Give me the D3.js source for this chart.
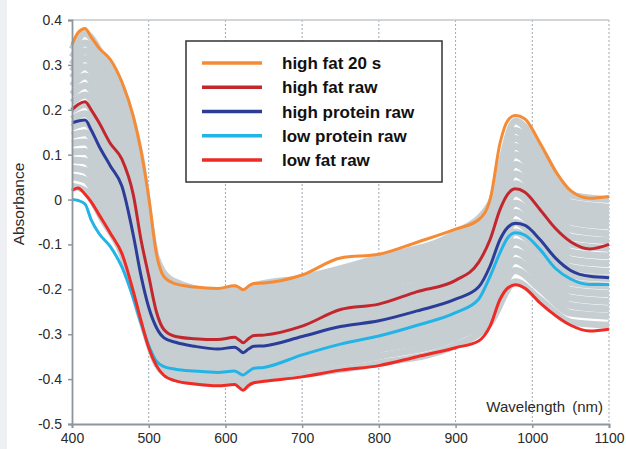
<!DOCTYPE html>
<html>
<head>
<meta charset="utf-8">
<script src="https://cdn.jsdelivr.net/npm/d3@7"></script>
<style>
html,body{margin:0;padding:0;background:#fff;}
svg{display:block;font-family:"Liberation Sans",Arial,sans-serif;}
</style>
</head>
<body>
<svg id="chart" width="626" height="449"></svg>
<script>
// ---------- DATA ----------
const wavelengths = [400,408,417,425,435,450,465,480,490,500,510,520,535,560,590,612,618,623,630,637,650,700,750,800,850,900,930,945,958,968,978,990,1010,1030,1050,1075,1100];

const highFat20s     = [0.345,0.372,0.381,0.362,0.338,0.312,0.262,0.185,0.108,0.005,-0.12,-0.172,-0.188,-0.195,-0.198,-0.192,-0.196,-0.201,-0.193,-0.187,-0.186,-0.168,-0.13,-0.122,-0.095,-0.066,-0.045,0.0,0.126,0.176,0.187,0.18,0.126,0.064,0.02,0.003,0.007];
const highFatRaw     = [0.2,0.212,0.218,0.2,0.172,0.125,0.09,0.01,-0.09,-0.17,-0.25,-0.29,-0.305,-0.31,-0.312,-0.307,-0.313,-0.319,-0.31,-0.303,-0.302,-0.282,-0.245,-0.233,-0.205,-0.18,-0.14,-0.089,-0.022,0.012,0.024,0.017,-0.022,-0.064,-0.094,-0.11,-0.1];
const highProteinRaw = [0.171,0.175,0.177,0.155,0.12,0.075,0.03,-0.08,-0.17,-0.24,-0.285,-0.308,-0.318,-0.327,-0.333,-0.329,-0.335,-0.341,-0.333,-0.327,-0.326,-0.305,-0.283,-0.27,-0.248,-0.222,-0.195,-0.148,-0.089,-0.062,-0.053,-0.057,-0.089,-0.13,-0.158,-0.171,-0.174];
const lowProteinRaw  = [0.0,-0.002,-0.01,-0.045,-0.075,-0.105,-0.15,-0.22,-0.275,-0.325,-0.36,-0.372,-0.378,-0.382,-0.385,-0.382,-0.387,-0.391,-0.383,-0.376,-0.374,-0.346,-0.322,-0.304,-0.28,-0.252,-0.222,-0.171,-0.118,-0.085,-0.074,-0.079,-0.111,-0.153,-0.177,-0.189,-0.189];
const lowFatRaw      = [0.02,0.026,0.012,-0.005,-0.033,-0.075,-0.12,-0.205,-0.27,-0.33,-0.37,-0.392,-0.404,-0.411,-0.415,-0.412,-0.419,-0.425,-0.414,-0.408,-0.405,-0.395,-0.38,-0.37,-0.35,-0.33,-0.315,-0.282,-0.222,-0.197,-0.19,-0.197,-0.23,-0.258,-0.28,-0.293,-0.289];

const seriesNames  = ["high fat 20 s","high fat raw","high protein raw","low protein raw","low fat raw"];
const seriesValues = [highFat20s, highFatRaw, highProteinRaw, lowProteinRaw, lowFatRaw];
const seriesColors = ["#f58b35","#c2272e","#2b3d98","#22b4e6","#ee2b25"];

// other (grey) spectra, sampled at these wavelengths
const greyWavelengths = [400,417,440,465,490,510,530,590,612,623,637,700,800,900,945,978,1010,1050,1100];
const greySpectra = [
  [0.335,0.370,0.320,0.250,0.090,-0.130,-0.180,-0.205,-0.197,-0.207,-0.192,-0.175,-0.130,-0.075,-0.010,0.175,0.115,0.010,0.000],
  [0.317,0.349,0.298,0.228,0.069,-0.144,-0.193,-0.217,-0.209,-0.220,-0.205,-0.188,-0.144,-0.090,-0.026,0.154,0.095,-0.007,-0.017],
  [0.301,0.331,0.280,0.209,0.051,-0.156,-0.204,-0.228,-0.220,-0.231,-0.215,-0.199,-0.156,-0.103,-0.039,0.136,0.078,-0.021,-0.031],
  [0.286,0.314,0.262,0.191,0.033,-0.168,-0.214,-0.238,-0.230,-0.241,-0.226,-0.209,-0.168,-0.115,-0.052,0.118,0.061,-0.035,-0.045],
  [0.271,0.296,0.243,0.172,0.015,-0.179,-0.225,-0.248,-0.241,-0.252,-0.236,-0.220,-0.179,-0.128,-0.066,0.100,0.044,-0.049,-0.059],
  [0.253,0.275,0.221,0.150,-0.006,-0.193,-0.238,-0.260,-0.253,-0.265,-0.249,-0.233,-0.193,-0.143,-0.082,0.078,0.024,-0.066,-0.076],
  [0.234,0.254,0.200,0.128,-0.027,-0.208,-0.251,-0.273,-0.266,-0.278,-0.262,-0.246,-0.208,-0.158,-0.097,0.057,0.003,-0.083,-0.092],
  [0.216,0.233,0.178,0.106,-0.048,-0.222,-0.264,-0.285,-0.278,-0.290,-0.274,-0.259,-0.222,-0.173,-0.113,0.035,-0.017,-0.100,-0.109],
  [0.198,0.212,0.156,0.083,-0.070,-0.236,-0.277,-0.297,-0.291,-0.303,-0.287,-0.272,-0.236,-0.188,-0.129,0.014,-0.037,-0.117,-0.126],
  [0.179,0.191,0.134,0.061,-0.091,-0.250,-0.290,-0.310,-0.303,-0.316,-0.300,-0.285,-0.250,-0.203,-0.145,-0.008,-0.057,-0.134,-0.143],
  [0.161,0.170,0.112,0.039,-0.112,-0.264,-0.303,-0.322,-0.316,-0.329,-0.312,-0.298,-0.264,-0.218,-0.161,-0.029,-0.078,-0.151,-0.160],
  [0.143,0.149,0.090,0.017,-0.134,-0.278,-0.315,-0.334,-0.328,-0.341,-0.325,-0.310,-0.278,-0.233,-0.177,-0.051,-0.098,-0.168,-0.176],
  [0.125,0.128,0.068,-0.005,-0.155,-0.292,-0.328,-0.346,-0.341,-0.354,-0.338,-0.323,-0.292,-0.248,-0.193,-0.072,-0.118,-0.185,-0.193],
  [0.106,0.107,0.046,-0.028,-0.176,-0.306,-0.341,-0.359,-0.353,-0.366,-0.350,-0.336,-0.306,-0.263,-0.209,-0.094,-0.139,-0.202,-0.210],
  [0.088,0.086,0.024,-0.050,-0.198,-0.320,-0.354,-0.371,-0.365,-0.379,-0.363,-0.349,-0.320,-0.278,-0.225,-0.115,-0.159,-0.219,-0.227],
  [0.070,0.065,0.002,-0.072,-0.219,-0.334,-0.367,-0.383,-0.378,-0.391,-0.376,-0.362,-0.334,-0.293,-0.241,-0.136,-0.179,-0.236,-0.244],
  [0.051,0.044,-0.019,-0.094,-0.240,-0.349,-0.380,-0.396,-0.390,-0.404,-0.388,-0.375,-0.349,-0.308,-0.256,-0.158,-0.199,-0.253,-0.260],
  [0.030,0.020,-0.045,-0.120,-0.265,-0.365,-0.395,-0.410,-0.405,-0.419,-0.403,-0.390,-0.365,-0.325,-0.275,-0.183,-0.223,-0.273,-0.280]
];

const xTicks = [400,500,600,700,800,900,1000,1100];
const yTicks = [0.4,0.3,0.2,0.1,0,-0.1,-0.2,-0.3,-0.4,-0.5];
const yTickLabels = ["0.4","0.3","0.2","0.1","0","-0.1","-0.2","-0.3","-0.4","-0.5"];

// ---------- CHART ----------
const svg = d3.select("#chart");
const L = 72, R = 609, T = 20, B = 424;
const x = d3.scaleLinear().domain([400,1100]).range([L,R]);
const y = d3.scaleLinear().domain([-0.5,0.4]).range([B,T]);

svg.append("rect").attr("x",0).attr("y",0).attr("width",7).attr("height",449).attr("fill","#eef0f3");

// gridlines (dotted verticals)
svg.append("g").selectAll("line").data(xTicks.filter(d=>d>400)).join("line")
  .attr("x1",d=>x(d)).attr("x2",d=>x(d)).attr("y1",T).attr("y2",B)
  .attr("stroke","#9fa9b3").attr("stroke-width",1).attr("stroke-dasharray","2,2");
// top border
svg.append("line").attr("x1",L).attr("x2",R).attr("y1",T).attr("y2",T)
  .attr("stroke","#c3c9cd").attr("stroke-width",1.5);

// grey spectra
const greyLine = d3.line().x((d,i)=>x(greyWavelengths[i])).y(d=>y(d)).curve(d3.curveMonotoneX);
svg.append("g").selectAll("path").data(greySpectra).join("path")
  .attr("d",greyLine).attr("fill","none").attr("stroke","#c6ced2").attr("stroke-width",7)
  .attr("stroke-linejoin","round");

// highlighted spectra
const line = d3.line().x((d,i)=>x(wavelengths[i])).y(d=>y(d)).curve(d3.curveMonotoneX);
svg.append("g").selectAll("path").data(seriesValues.map((v,i)=>({v,c:seriesColors[i]}))).join("path")
  .attr("d",d=>line(d.v)).attr("fill","none").attr("stroke",d=>d.c).attr("stroke-width",3)
  .attr("stroke-linejoin","round");

// axes
const yAxis = d3.axisLeft(y).tickValues(yTicks).tickSize(4).tickPadding(6)
  .tickFormat((d,i)=>yTickLabels[i]);
const gy = svg.append("g").attr("transform",`translate(${L},0)`).call(yAxis);
const xAxis = d3.axisBottom(x).tickValues(xTicks).tickSize(4).tickPadding(5).tickFormat(d=>String(d));
const gx = svg.append("g").attr("transform",`translate(0,${B})`).call(xAxis);
[gx,gy].forEach(g=>{
  g.select(".domain").attr("stroke","#8d969c").attr("stroke-width",1.8);
  g.selectAll(".tick line").attr("stroke","#8d969c").attr("stroke-width",1.5);
  g.selectAll(".tick text").attr("fill","#2a2a2a").style("font-size","14px")
    .style("font-family","'Liberation Sans',Arial,sans-serif");
});

// axis titles
svg.append("text").attr("transform","translate(24,204) rotate(-90)")
  .attr("text-anchor","middle").attr("fill","#2a2a2a").style("font-size","15.5px").text("Absorbance");
svg.append("text").attr("x",603).attr("y",412).attr("text-anchor","end")
  .attr("fill","#2a2a2a").style("font-size","15px").style("word-spacing","3px").text("Wavelength (nm)");

// legend
const lg = svg.append("g");
lg.append("rect").attr("x",186).attr("y",41).attr("width",256).attr("height",141)
  .attr("fill","#fff").attr("stroke","#333").attr("stroke-width",1.5);
const rowY = d3.scalePoint().domain(seriesNames).range([63,160]);
const items = lg.selectAll("g.item").data(seriesNames).join("g").attr("class","item")
  .attr("transform",d=>`translate(0,${rowY(d)})`);
items.append("line").attr("x1",202).attr("x2",262).attr("y1",0).attr("y2",0)
  .attr("stroke",(d,i)=>seriesColors[i]).attr("stroke-width",3.5);
items.append("text").attr("x",282).attr("y",0).attr("dy","0.36em")
  .attr("fill","#111").style("font-size","17px").style("font-weight","bold").text(d=>d);
</script>
</body>
</html>
